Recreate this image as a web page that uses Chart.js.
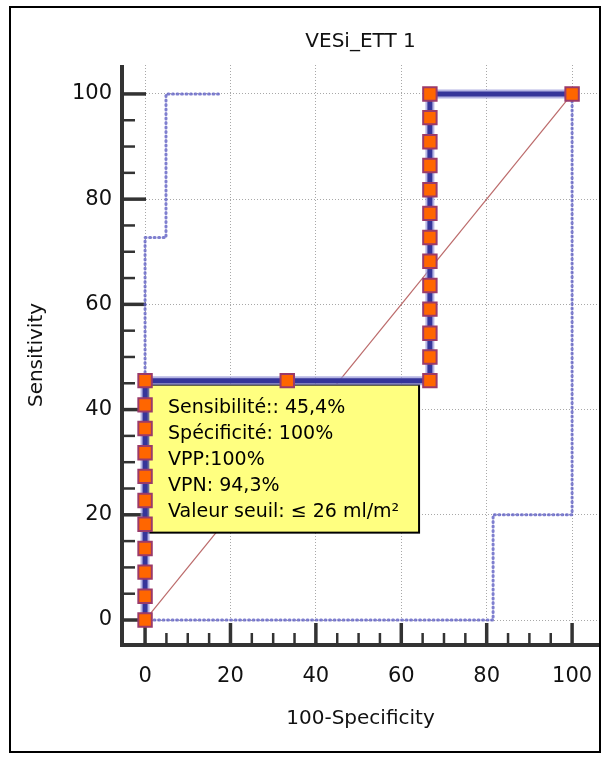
<!DOCTYPE html>
<html>
<head>
<meta charset="utf-8">
<script src="https://cdn.jsdelivr.net/npm/chart.js@4.4.0/dist/chart.umd.min.js"></script>
<style>
html, body { margin:0; padding:0; background:#fff; }
</style>
</head>
<body>
<canvas id="roc" width="602" height="757"></canvas>
<script>
// ROC curve (100-Specificity, Sensitivity)
const rocX = [0,0,0,0,0,0,0,0,0,0,0, 33.3, 66.7,66.7,66.7,66.7,66.7,66.7,66.7,66.7,66.7,66.7,66.7,66.7,66.7, 100];
const rocY = [0,4.5,9.1,13.6,18.2,22.7,27.3,31.8,36.4,40.9,45.5, 45.5, 45.5,50,54.5,59.1,63.6,68.2,72.7,77.3,81.8,86.4,90.9,95.5,100, 100];

// confidence bounds
const upperX = [0,0,4.9,4.9,18];
const upperY = [0,72.7,72.7,100,100];
const lowerX = [0,81.5,81.5,100,100];
const lowerY = [0,0,20,20,100];

// reference diagonal
const diagX = [0,100];
const diagY = [0,100];

const xTicks = [0,20,40,60,80,100];
const yTicks = [0,20,40,60,80,100];

const boxLines = [
    "Sensibilité:: 45,4%",
    "Spécificité: 100%",
    "VPP:100%",
    "VPN: 94,3%",
    "Valeur seuil: \u2264 26 ml/m\u00B2"
];

function pts(xs, ys){
    return xs.map((x, i) => ({x: x, y: ys[i]}));
}

Chart.defaults.font.family = "'DejaVu Sans', sans-serif";
Chart.defaults.color = "#111";

// white background + frame
const framePlugin = {
    id: "frame",
    beforeDraw(chart){
        const ctx = chart.ctx;
        ctx.save();
        ctx.fillStyle = "#fff";
        ctx.fillRect(0, 0, chart.width, chart.height);
        ctx.restore();
    },
    afterDraw(chart){
        const ctx = chart.ctx;
        ctx.save();
        ctx.strokeStyle = "#000";
        ctx.lineWidth = 2;
        ctx.strokeRect(10, 7, 590, 745);
        ctx.restore();
    }
};

// axis lines with inner tick marks
const axisPlugin = {
    id: "axisLines",
    beforeDatasetsDraw(chart){
        const ctx = chart.ctx;
        const a = chart.chartArea;
        const xs = chart.scales.x, ys = chart.scales.y;
        ctx.save();
        ctx.strokeStyle = "#333";
        ctx.lineCap = "butt";

        // y axis
        ctx.lineWidth = 4;
        ctx.beginPath();
        ctx.moveTo(a.left, a.top);
        ctx.lineTo(a.left, a.bottom + 2);
        ctx.stroke();
        for (let v = 0; v <= 100; v += 5){
            const py = ys.getPixelForValue(v);
            const major = v % 20 === 0;
            ctx.lineWidth = major ? 3.5 : 2.5;
            ctx.beginPath();
            ctx.moveTo(a.left, py);
            ctx.lineTo(a.left + (major ? 24 : 13), py);
            ctx.stroke();
        }

        // x axis
        ctx.lineWidth = 4;
        ctx.beginPath();
        ctx.moveTo(a.left - 2, a.bottom);
        ctx.lineTo(a.right, a.bottom);
        ctx.stroke();
        for (let v = 0; v <= 100; v += 5){
            const px = xs.getPixelForValue(v);
            const major = v % 20 === 0;
            ctx.lineWidth = major ? 3.5 : 2.5;
            ctx.beginPath();
            ctx.moveTo(px, a.bottom);
            ctx.lineTo(px, a.bottom - (major ? 22 : 12));
            ctx.stroke();
        }
        ctx.restore();
    }
};

// yellow info box, drawn over the diagonal but under the ROC curve
const boxPlugin = {
    id: "infoBox",
    afterDatasetDraw(chart, args){
        if (args.index !== 2) return;
        const ctx = chart.ctx;
        const xs = chart.scales.x, ys = chart.scales.y;
        const left = xs.getPixelForValue(0) + 3;
        const top = ys.getPixelForValue(45.5) + 4;
        const w = 271, h = 148;
        ctx.save();
        ctx.fillStyle = "#ffff80";
        ctx.fillRect(left, top, w, h);
        ctx.strokeStyle = "#000";
        ctx.lineWidth = 2;
        ctx.strokeRect(left, top, w, h);
        ctx.fillStyle = "#000";
        ctx.font = "19px 'DejaVu Sans'";
        ctx.textBaseline = "middle";
        boxLines.forEach((t, i) => {
            ctx.fillText(t, left + 20, top + 23 + i * 26);
        });
        ctx.restore();
    }
};

const dotted = {
    borderColor: "rgba(95,95,195,0.8)",
    borderWidth: 3,
    borderDash: [1, 3.5],
    borderCapStyle: "round",
    pointRadius: 0
};

new Chart(document.getElementById("roc"), {
    type: "line",
    data: {
        datasets: [
            {
                data: pts(rocX, rocY),
                borderColor: "#35359a",
                borderWidth: 5,
                pointStyle: "rect",
                pointRadius: 9.5,
                pointBackgroundColor: "#ff6600",
                pointBorderColor: "#9a3a6a",
                pointBorderWidth: 2,
                tension: 0
            },
            {
                data: pts(rocX, rocY),
                borderColor: "rgba(150,150,215,0.7)",
                borderWidth: 9,
                pointRadius: 0,
                tension: 0
            },
            {
                data: pts(diagX, diagY),
                borderColor: "rgba(175,80,80,0.85)",
                borderWidth: 1.2,
                pointRadius: 0
            },
            Object.assign({data: pts(upperX, upperY)}, dotted),
            Object.assign({data: pts(lowerX, lowerY)}, dotted)
        ]
    },
    options: {
        responsive: false,
        devicePixelRatio: 1,
        animation: false,
        layout: {
            autoPadding: false,
            padding: {left: 10, right: 3, top: 10, bottom: 10}
        },
        plugins: {
            legend: {display: false},
            tooltip: {enabled: false},
            title: {display: false}
        },
        scales: {
            x: {
                type: "linear",
                min: -5.4,
                max: 106.3,
                afterBuildTicks(s){ s.ticks = xTicks.map(v => ({value: v})); },
                afterFit(s){ s.height = 102; s.paddingLeft = 0; s.paddingRight = 0; },
                ticks: {
                    font: {size: 21},
                    color: "#111",
                    padding: 19,
                    maxRotation: 0
                },
                grid: {
                    color: "#a8a8a8",
                    lineWidth: 1,
                    drawTicks: false
                },
                border: {display: false, dash: [1, 2]},
                title: {
                    display: true,
                    text: "100-Specificity",
                    color: "#111",
                    font: {size: 20},
                    padding: {top: 0, bottom: 16}
                }
            },
            // top axis only carries the chart title, centred over the plot
            x2: {
                type: "linear",
                position: "top",
                min: -5.4,
                max: 106.3,
                afterFit(s){ s.height = 55; s.paddingLeft = 0; s.paddingRight = 0; },
                ticks: {display: false},
                grid: {display: false},
                border: {display: false},
                title: {
                    display: true,
                    text: "VESi_ETT 1",
                    color: "#111",
                    font: {size: 20},
                    padding: {top: 20, bottom: 0}
                }
            },
            y: {
                type: "linear",
                min: -4.75,
                max: 105.5,
                afterBuildTicks(s){ s.ticks = yTicks.map(v => ({value: v})); },
                afterFit(s){ s.width = 112; },
                ticks: {
                    font: {size: 21},
                    color: "#111",
                    padding: 10
                },
                grid: {
                    color: "#a8a8a8",
                    lineWidth: 1,
                    drawTicks: false
                },
                border: {display: false, dash: [1, 2]},
                title: {
                    display: true,
                    text: "Sensitivity",
                    color: "#111",
                    font: {size: 20},
                    padding: {top: 15, bottom: 0}
                }
            }
        }
    },
    plugins: [framePlugin, axisPlugin, boxPlugin]
});
</script>
</body>
</html>
